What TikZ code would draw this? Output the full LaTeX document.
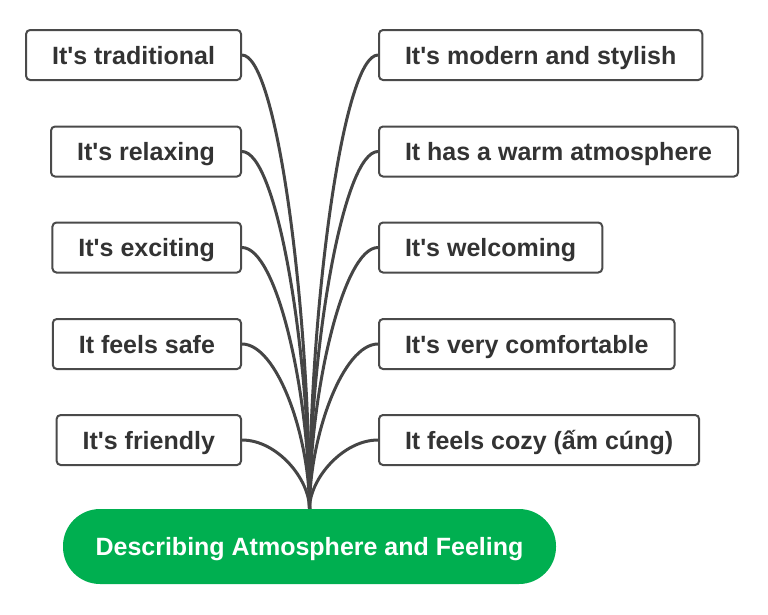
\documentclass[tikz,border=0pt]{standalone}
\usepackage{fontspec}
\setmainfont{Liberation Sans}
\definecolor{linegray}{HTML}{454545}
\definecolor{boxgray}{HTML}{4A4A4A}
\definecolor{textgray}{HTML}{333333}
\definecolor{rootgreen}{HTML}{00AF50}
\newcommand\ap{\textquotesingle}
\tikzset{
  idea/.style={draw=boxgray, line width=2pt, rounded corners=4pt, fill=white,
    minimum height=50pt, inner xsep=26pt, text=textgray,
    text height=18pt, text depth=0pt,
    font=\fontsize{25}{29}\selectfont\bfseries},
  rootbox/.style={fill=rootgreen, rounded corners=37pt, minimum height=75pt,
    minimum width=493pt, text=white, text height=18pt, text depth=0pt,
    font=\fontsize{25}{29}\selectfont\bfseries},
  branch/.style={draw=linegray, line width=3pt}
}
\begin{document}
\begin{tikzpicture}[x=1pt,y=-1pt]
  \useasboundingbox (0,0) rectangle (768,614);
  \node[rootbox] (root) at (309.5,546.5) {Describing Atmosphere and Feeling};
  % left column
  \node[idea,anchor=east] (traditional) at (242,55) {It\ap s traditional};
  \node[idea,anchor=east] (relaxing) at (242,151.5) {It\ap s relaxing};
  \node[idea,anchor=east] (exciting) at (242,247.5) {It\ap s exciting};
  \node[idea,anchor=east] (safe) at (242,344) {It feels safe};
  \node[idea,anchor=east] (friendly) at (242,440) {It\ap s friendly};
  % right column
  \node[idea,anchor=west] (modern) at (378,55) {It\ap s modern and stylish};
  \node[idea,anchor=west] (warm) at (378,151.5) {It has a warm atmosphere};
  \node[idea,anchor=west] (welcoming) at (378,247.5) {It\ap s welcoming};
  \node[idea,anchor=west] (comfortable) at (378,344) {It\ap s very comfortable};
  \node[idea,anchor=west] (cozy) at (378,440) {It feels cozy (ấm cúng)};
  % connectors
  \foreach \n/\c in {traditional/200,relaxing/158,exciting/115,safe/73,friendly/30}
    \draw[branch] (\n.east) .. controls +(35,0) and +(0,-\c) .. (root.north);
  \foreach \n/\c in {modern/200,warm/158,welcoming/115,comfortable/73,cozy/30}
    \draw[branch] (\n.west) .. controls +(-35,0) and +(0,-\c) .. (root.north);
\end{tikzpicture}
\end{document}
